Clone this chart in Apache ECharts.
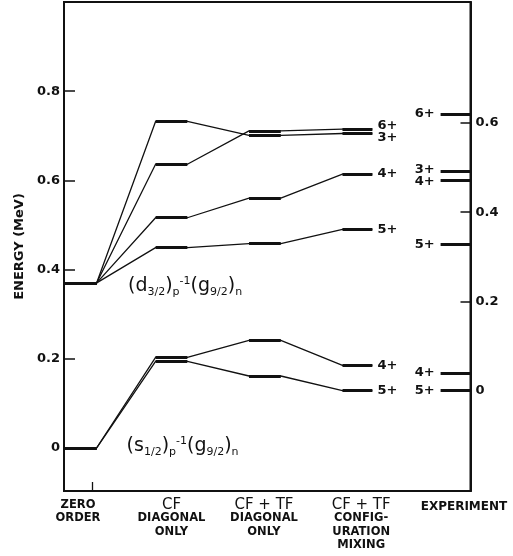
<!DOCTYPE html>
<html><head><meta charset="utf-8">
<script src="https://cdn.jsdelivr.net/npm/echarts@6/dist/echarts.min.js"></script>
<style>html,body{margin:0;padding:0;background:#fff}#c{width:513px;height:556px}</style>
</head><body><div id="c"></div>
<script>
// ---- data (energies in MeV) ----
const columnLabels = [
  ['ZERO', 'ORDER'],
  ['CF', 'DIAGONAL', 'ONLY'],
  ['CF + TF', 'DIAGONAL', 'ONLY'],
  ['CF + TF', 'CONFIG-', 'URATION', 'MIXING'],
  ['EXPERIMENT']
];
// calculated levels: zero order, CF diag, CF+TF diag, CF+TF config mixing
const theorySpins = ['6+', '3+', '4+', '5+', '4+', '5+'];
const level6d = [0.37, 0.636, 0.711, 0.715];
const level3d = [0.37, 0.732, 0.701, 0.705];
const level4d = [0.37, 0.516, 0.560, 0.614];
const level5d = [0.37, 0.449, 0.458, 0.490];
const level4s = [0.00, 0.203, 0.241, 0.185];
const level5s = [0.00, 0.194, 0.161, 0.128];
const theoryLevels = [level6d, level3d, level4d, level5d, level4s, level5s];
// experiment (right axis, relative to ground state)
const expSpins = ['6+', '3+', '4+', '5+', '4+', '5+'];
const expEnergies = [0.620, 0.492, 0.471, 0.328, 0.039, 0.0];
const leftTicks = [0, 0.2, 0.4, 0.6, 0.8];
const rightTicks = [0, 0.2, 0.4, 0.6];
const expOffset = 0.1285; // right-axis zero sits at this calculated energy
const annotations = [
  '{m|(d}{sub|3/2}{m|)}{sub|p}{sup|-1}{m|(g}{sub|9/2}{m|)}{sub|n}',
  '{m|(s}{sub|1/2}{m|)}{sub|p}{sup|-1}{m|(g}{sub|9/2}{m|)}{sub|n}'
];

// ---- layout ----
const FONT = 'DejaVu Sans';
const INK = '#111';
const xMin = -0.15, xMax = 4.2;
const yMin = -0.097, yMax = 1.0;
const segSpans = [[-0.15, 0.2], [0.83, 1.17], [1.83, 2.17], [2.83, 3.15], [3.88, 4.2]];
const labelPos = [0, 1, 1.99, 3.03, 4.13];
const theoryNudge = [-3, 4, 0, 0, 0, 0];
const expNudge = [0, -2, 1, 0, 0, 0];
const annotationAt = [[0.535, 0.362], [0.52, 0.003]];

const series = [];
theoryLevels.forEach((vals) => {
  const pts = [];
  vals.forEach((e, i) => { pts.push([segSpans[i][0], e]); pts.push([segSpans[i][1], e]); });
  series.push({ type: 'line', data: pts, symbol: 'none', silent: true, z: 2,
    lineStyle: { color: INK, width: 1.3 } });
});
const theorySegs = [];
theoryLevels.forEach((vals) => vals.forEach((e, i) => {
  theorySegs.push({ coords: [[segSpans[i][0], e], [segSpans[i][1], e]] });
}));
series.push({ type: 'lines', coordinateSystem: 'cartesian2d', data: theorySegs, z: 3, silent: true,
  lineStyle: { color: INK, width: 2.8, opacity: 1, curveness: 0 } });
series.push({ type: 'lines', coordinateSystem: 'cartesian2d', yAxisIndex: 1, z: 3, silent: true,
  data: expEnergies.map(e => ({ coords: [[segSpans[4][0], e], [segSpans[4][1], e]] })),
  lineStyle: { color: INK, width: 2.8, opacity: 1, curveness: 0 } });
const labelStyle = { color: INK, fontFamily: FONT, fontWeight: 'bold', fontSize: 13, opacity: 1 };
const hiddenDot = { symbolSize: 0, itemStyle: { opacity: 1, color: INK } };
series.push({ type: 'scatter', ...hiddenDot, silent: true, z: 4,
  data: theoryLevels.map((vals, k) => ({ value: [segSpans[3][1], vals[3]],
    label: { show: true, position: 'right', distance: 5, offset: [0, theoryNudge[k]],
      formatter: theorySpins[k], ...labelStyle } })) });
series.push({ type: 'scatter', ...hiddenDot, silent: true, z: 4, yAxisIndex: 1,
  data: expEnergies.map((e, k) => ({ value: [segSpans[4][0], e],
    label: { show: true, position: 'left', distance: 6, offset: [0, expNudge[k]],
      formatter: expSpins[k], ...labelStyle } })) });
series.push({ type: 'scatter', ...hiddenDot, silent: true, z: 4,
  data: annotations.map((t, k) => ({ value: annotationAt[k],
    label: { show: true, position: 'right', distance: 0, formatter: t, opacity: 1,
      rich: {
        m: { fontFamily: FONT, fontSize: 19, color: INK, lineHeight: 22, verticalAlign: 'middle' },
        sub: { fontFamily: FONT, fontSize: 11, color: INK, lineHeight: 12, verticalAlign: 'bottom' },
        sup: { fontFamily: FONT, fontSize: 11, color: INK, lineHeight: 12, verticalAlign: 'top' }
      } } })) });

const option = {
  animation: false,
  backgroundColor: '#fff',
  grid: { left: 64, right: 42.5, top: 2, bottom: 65, show: true, borderColor: INK, borderWidth: 2 },
  xAxis: {
    type: 'value', min: xMin, max: xMax,
    axisLine: { show: true, onZero: false, lineStyle: { color: INK, width: 2 } },
    splitLine: { show: false },
    axisTick: { show: true, inside: true, length: 9, customValues: [0.15], lineStyle: { color: INK, width: 1.3 } },
    axisLabel: {
      customValues: labelPos, margin: 7,
      formatter: (v) => {
        let k = 0, best = 1e9;
        labelPos.forEach((p, i) => { const d = Math.abs(p - v); if (d < best) { best = d; k = i; } });
        const lines = columnLabels[k];
        return lines.map((t, j) => {
          if (k === 4) return '{e|' + t + '}';
          if (j === 0 && k > 0) return '{b|' + t + '}';
          return '{s|' + t + '}';
        }).join('\n');
      },
      rich: {
        b: { fontFamily: FONT, fontSize: 15, color: INK, lineHeight: 13.5 },
        s: { fontFamily: FONT, fontSize: 11.5, fontWeight: 'bold', color: INK, lineHeight: 13.5 },
        e: { fontFamily: FONT, fontSize: 12, fontWeight: 'bold', color: INK, lineHeight: 17 }
      }
    }
  },
  yAxis: [{
    type: 'value', position: 'left', min: yMin, max: yMax,
    name: 'ENERGY (MeV)', nameLocation: 'middle', nameRotate: 90, nameGap: 33,
    nameTextStyle: { fontFamily: FONT, fontWeight: 'bold', fontSize: 13, color: INK },
    axisLine: { show: true, onZero: false, lineStyle: { color: INK, width: 2 } },
    splitLine: { show: false },
    axisTick: { show: true, inside: true, length: 11, customValues: leftTicks, lineStyle: { color: INK, width: 1.5 } },
    axisLabel: { customValues: leftTicks, margin: 4, formatter: v => v === 0 ? '0' : v.toFixed(1),
      fontFamily: FONT, fontWeight: 'bold', fontSize: 13, color: INK }
  }, {
    type: 'value', position: 'right', min: yMin - expOffset, max: yMax - expOffset,
    axisLine: { show: true, onZero: false, lineStyle: { color: INK, width: 2 } },
    splitLine: { show: false },
    axisTick: { show: true, inside: true, length: 10, customValues: rightTicks, lineStyle: { color: INK, width: 1.5 } },
    axisLabel: { customValues: rightTicks, margin: 5, formatter: v => Math.abs(v) < 1e-9 ? '0' : v.toFixed(1),
      fontFamily: FONT, fontWeight: 'bold', fontSize: 13, color: INK }
  }],
  series: series
};
const chart = echarts.init(document.getElementById('c'), null, { renderer: 'canvas' });
chart.setOption(option);
</script>
</body></html>
